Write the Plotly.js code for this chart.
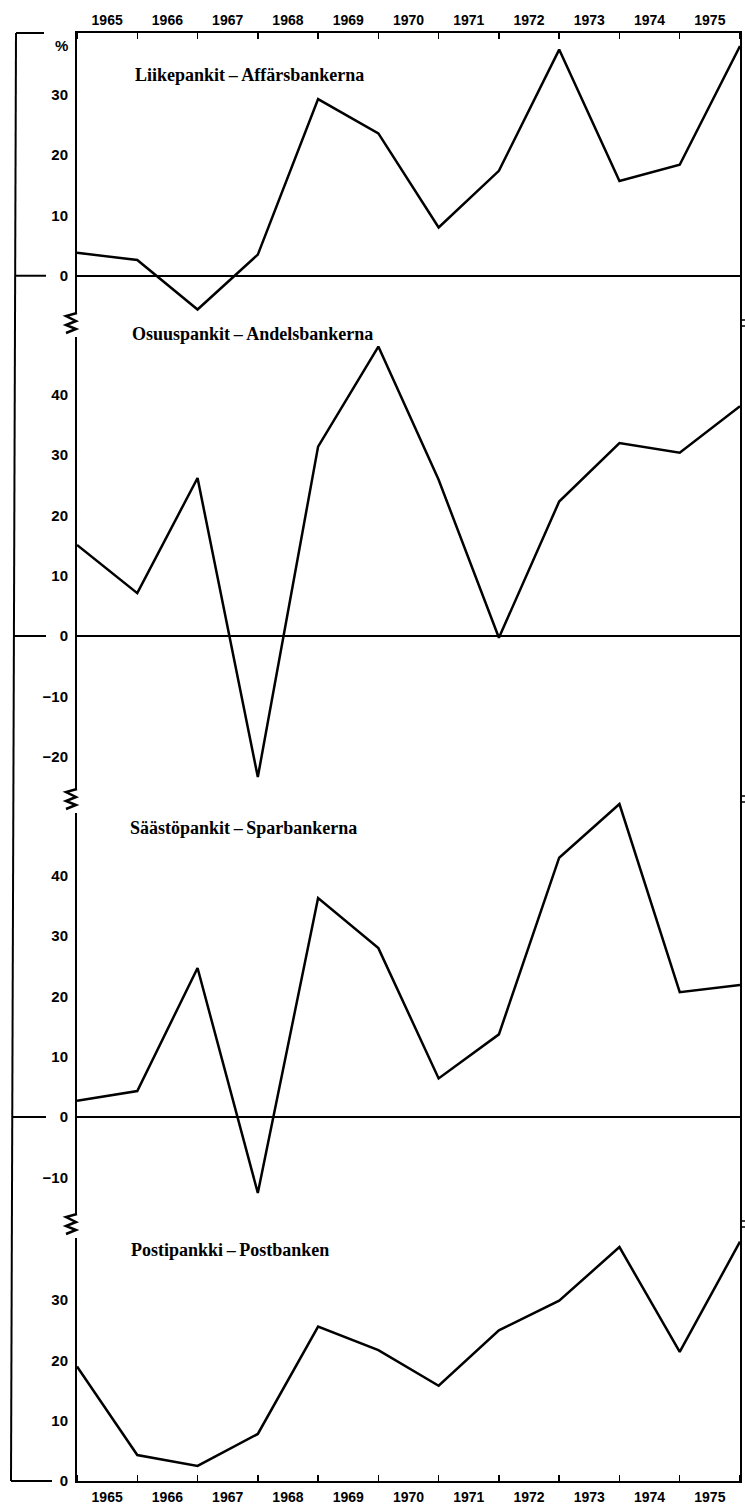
<!DOCTYPE html>
<html><head><meta charset="utf-8">
<script src="https://cdn.plot.ly/plotly-3.0.1.min.js"></script>
<style>html,body{margin:0;padding:0;background:#fff}</style>
</head><body><div id="chart" style="width:745px;height:1508px"></div>
<script>
// ---- data ----
const xPos = [0, 1, 2, 3, 4, 5, 6, 7, 8, 9, 10, 11];
const yearLabels = ['1965','1966','1967','1968','1969','1970','1971','1972','1973','1974','1975'];
const yearLabelPos = [0.5, 1.5, 2.5, 3.5, 4.5, 5.5, 6.5, 7.5, 8.5, 9.5, 10.5];
const panelTitles = ['Liikepankit\u2009\u2013\u2009Affärsbankerna', 'Osuuspankit\u2009\u2013\u2009Andelsbankerna',
                     'Säästöpankit\u2009\u2013\u2009Sparbankerna', 'Postipankki\u2009\u2013\u2009Postbanken'];
const liikepankit  = [3.8, 2.6, -5.6, 3.5, 29.3, 23.6, 8.0, 17.4, 37.5, 15.7, 18.4, 38.1];
const osuuspankit  = [15.1, 7.1, 26.2, -23.4, 31.4, 48.0, 25.9, -0.3, 22.3, 32.0, 30.4, 38.1];
const saastopankit = [2.7, 4.3, 24.7, -12.6, 36.3, 28.0, 6.4, 13.7, 43.0, 51.9, 20.7, 21.9];
const postipankki  = [19.0, 4.3, 2.5, 7.8, 25.6, 21.7, 15.8, 25.0, 29.9, 38.8, 21.4, 39.7];
const tickVals1 = [0, 10, 20, 30];
const tickVals2 = [-20, -10, 0, 10, 20, 30, 40];
const tickVals3 = [-10, 0, 10, 20, 30, 40];
const tickVals4 = [0, 10, 20, 30];

// ---- geometry helpers (pixel -> paper) ----
const L = 77, R = 740, T = 33, B = 1481;
const px = p => (p - L) / (R - L);
const py = p => (B - p) / (B - T);

const lineStyle = {color: '#000', width: 2.5};
const traces = [
  {x: xPos, y: liikepankit,  xaxis: 'x2', yaxis: 'y',  mode: 'lines', line: lineStyle},
  {x: xPos, y: osuuspankit,  xaxis: 'x',  yaxis: 'y2', mode: 'lines', line: lineStyle},
  {x: xPos, y: saastopankit, xaxis: 'x',  yaxis: 'y3', mode: 'lines', line: lineStyle},
  {x: xPos, y: postipankki,  xaxis: 'x',  yaxis: 'y4', mode: 'lines', line: lineStyle}
];

const tickFont = {family: 'Liberation Sans, Arial, sans-serif', size: 15, weight: 'bold', color: '#000'};
const xTickFont = {family: 'Liberation Sans, Arial, sans-serif', size: 14, weight: 'bold', color: '#000'};
const titleFont = {family: 'Liberation Serif, Times New Roman, serif', size: 18, weight: 'bold', color: '#000'};

function yax(domain, range, tickvals, zl) {
  return {domain: domain, range: range, tickmode: 'array', tickvals: tickvals,
    showgrid: false, zeroline: zl, zerolinecolor: '#000', zerolinewidth: 2,
    showline: true, mirror: true, linecolor: '#000', linewidth: 2,
    ticks: '', tickfont: tickFont, ticklabelstandoff: 4, fixedrange: true};
}
const xaxCommon = {range: [0, 11], tickmode: 'array', tickvals: yearLabelPos, ticktext: yearLabels,
  ticks: '', showgrid: false, zeroline: false, showline: true, linecolor: '#000', linewidth: 2,
  tickfont: xTickFont, fixedrange: true,
  minor: {tickmode: 'linear', tick0: 0, dtick: 1, ticks: 'inside', ticklen: 6, tickwidth: 1.5, tickcolor: '#000', showgrid: false}};

const d1 = py(327), d2 = py(798), d3 = py(1223);

const shapes = [];
const blk = {color: '#000', width: 2};
// outer left frame
shapes.push({type: 'line', xref: 'paper', yref: 'paper', x0: px(16), y0: py(33), x1: px(11), y1: py(1481), line: blk});
shapes.push({type: 'line', xref: 'paper', yref: 'paper', x0: px(16), y0: py(33), x1: px(44), y1: py(33), line: blk});
shapes.push({type: 'line', xref: 'paper', yref: 'paper', x0: px(11), y0: py(1481), x1: px(52), y1: py(1481), line: blk});
// zero-line stubs left of the labels
[['y', 15], ['y2', 14], ['y3', 12]].forEach(([ref, x0]) => {
  shapes.push({type: 'line', xref: 'paper', yref: ref, x0: px(x0), x1: px(46), y0: 0, y1: 0, line: blk});
});
// axis breaks
[323, 799, 1224].forEach(c => {
  shapes.push({type: 'rect', xref: 'paper', yref: 'paper', x0: px(62), x1: px(80), y0: py(c - 10), y1: py(c + 14),
    fillcolor: '#fff', line: {width: 0}});
  const pts = [[77, c - 10], [66, c - 7], [76, c - 2], [66, c + 2], [76, c + 6], [66, c + 10]];
  shapes.push({type: 'path', xref: 'paper', yref: 'paper',
    path: 'M ' + pts.map(p => px(p[0]) + ',' + py(p[1])).join(' L '), line: {color: '#000', width: 2.5}});
  shapes.push({type: 'line', xref: 'paper', yref: 'paper', x0: px(740), x1: px(745), y0: py(c - 3), y1: py(c - 3), line: {color: '#000', width: 1.5}});
  shapes.push({type: 'line', xref: 'paper', yref: 'paper', x0: px(740), x1: px(745), y0: py(c + 3), y1: py(c + 3), line: {color: '#000', width: 1.5}});
});

const titlePos = [[133, 75], [130, 334], [128, 828], [129, 1250]];
const annotations = panelTitles.map((t, i) => ({
  text: t, xref: 'paper', yref: 'paper', x: px(titlePos[i][0]), y: py(titlePos[i][1]),
  xanchor: 'left', yanchor: 'middle', showarrow: false, font: titleFont}));
annotations.push({text: '%', xref: 'paper', yref: 'paper', x: px(70), y: py(45), xanchor: 'right', yanchor: 'middle',
  showarrow: false, font: tickFont});

const layout = {
  width: 745, height: 1508, margin: {l: L, r: 745 - R, t: T, b: 1508 - B},
  paper_bgcolor: '#fff', plot_bgcolor: 'rgba(0,0,0,0)', showlegend: false, hovermode: false,
  xaxis: Object.assign({}, xaxCommon, {anchor: 'y4', side: 'bottom', ticklabelstandoff: 2}),
  xaxis2: Object.assign({}, xaxCommon, {anchor: 'y', side: 'top', ticklabelstandoff: 0}),
  yaxis: yax([d1, 1], [-8.5, 40.25], tickVals1, true),
  yaxis2: yax([d2, d1], [-26.87, 51.24], tickVals2, true),
  yaxis3: yax([d3, d2], [-17.58, 52.9], tickVals3, true),
  yaxis4: yax([0, d3], [0, 42.79], tickVals4, false),
  shapes: shapes, annotations: annotations
};
Plotly.newPlot('chart', traces, layout, {staticPlot: true, displayModeBar: false});
</script></body></html>
